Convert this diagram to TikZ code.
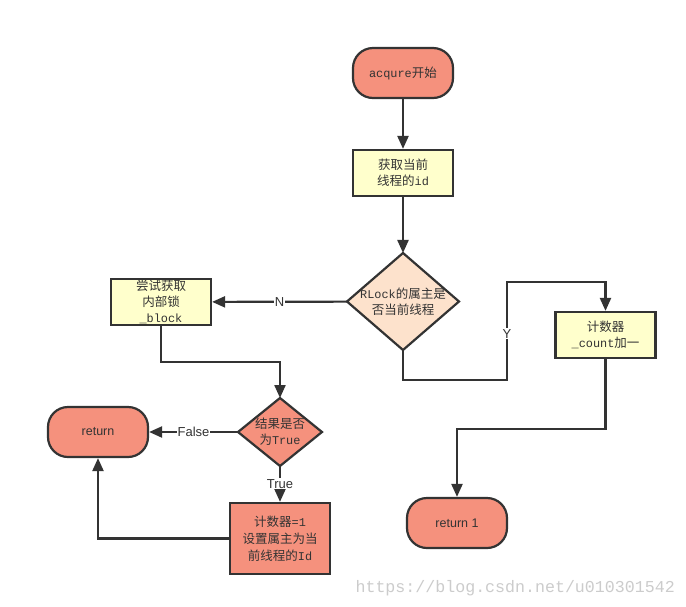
\documentclass[tikz,border=0pt]{standalone}
\usepackage{fontspec}
\setmainfont{Liberation Sans}
\newfontfamily\cjk{Noto Sans CJK SC}
\newfontfamily\lmono[Scale=0.95]{Liberation Mono}
\usetikzlibrary{shapes.geometric,arrows.meta}
\definecolor{salmon}{HTML}{F5917D}
\definecolor{lyellow}{HTML}{FFFFCC}
\definecolor{peach}{HTML}{FDE2CC}
\definecolor{ink}{HTML}{333333}
\newcommand{\zh}[1]{{\cjk #1}}
\newcommand{\la}[1]{{\lmono #1}}
\begin{document}
\begin{tikzpicture}[x=1pt,y=-1pt,
  every node/.style={text=ink},
  base/.style={draw=ink,line width=2.2pt,align=center,inner sep=0pt,
    font=\fontsize{12.5}{16}\selectfont},
  term/.style={base,fill=salmon,rounded corners=20pt,minimum width=100pt,minimum height=50pt},
  ybox/.style={base,fill=lyellow,rectangle,minimum width=100pt,minimum height=46pt},
  sbox/.style={base,fill=salmon,rectangle,minimum width=100pt,minimum height=71pt,
    font=\fontsize{12.5}{17}\selectfont},
  dia/.style={draw=ink,line width=2.2pt,diamond,inner sep=0pt,outer sep=0pt},
  dtext/.style={align=center,inner sep=0pt,font=\fontsize{12.5}{16}\selectfont},
  arr/.style={draw=ink,line width=2.2pt,-{Triangle[length=13pt,width=11pt]}},
  lbl/.style={fill=white,inner sep=1pt,font=\fontsize{13}{15}\selectfont},
  sans/.style={font=\fontsize{12.5}{14}\selectfont}
]
\useasboundingbox (0,0) rectangle (686,606);
\fill[white] (0,0) rectangle (686,606);

\node[term] (start) at (403,73) {\la{acqure}\zh{开始}};
\node[ybox] (b1) at (403,173) {\zh{获取当前}\\\zh{线程的}\la{id}};
\node[dia,fill=peach,minimum width=112pt,minimum height=97pt] (d1) at (403,301.5) {};
\node[dtext] (d1t) at (403,301.5) {\la{RLock}\zh{的属主是}\\\zh{否当前线程}};
\node[ybox] (b2) at (161,302) {\zh{尝试获取}\\\zh{内部锁}\\\la{\_block}};
\node[dia,fill=salmon,minimum width=84pt,minimum height=68pt] (d2) at (280,432) {};
\node[dtext] (d2t) at (280,432) {\zh{结果是否}\\\zh{为}\la{True}};
\node[term,sans] (ret) at (98,432) {return};
\node[sbox] (b3) at (280,538.5) {\zh{计数器}\la{=1}\\\zh{设置属主为当}\\\zh{前线程的}\la{Id}};
\node[ybox] (b4) at (605.5,335) {\zh{计数器}\\\la{\_count}\zh{加一}};
\node[term,sans] (ret1) at (457,523) {return 1};

\coordinate (y1) at (507,380);
\coordinate (y2) at (507,282);

\draw[arr] (start) -- (b1);
\draw[arr] (b1) -- (d1);
\draw[arr] (d1) -- node[lbl] {N} (b2);
\draw[arr] (b2.south) -- ++(0,36) -| (d2.north);
\draw[arr] (d2) -- node[lbl] {False} (ret);
\draw[arr] (d2) -- node[lbl] {True} (b3);
\draw[arr] (b3.west) -| (ret.south);
\draw[arr] (d1.south) |- (y1) -- node[lbl,pos=0.47] {Y} (y2) -| (b4.north);
\draw[arr] (b4.south) -- ++(0,70) -| (ret1.north);

\node[anchor=base east,inner sep=0pt,text=black!20,font=\lmono\fontsize{17.5}{20}\selectfont] (wm) at (675,592) {https://blog.csdn.net/u010301542};
\end{tikzpicture}
\end{document}
